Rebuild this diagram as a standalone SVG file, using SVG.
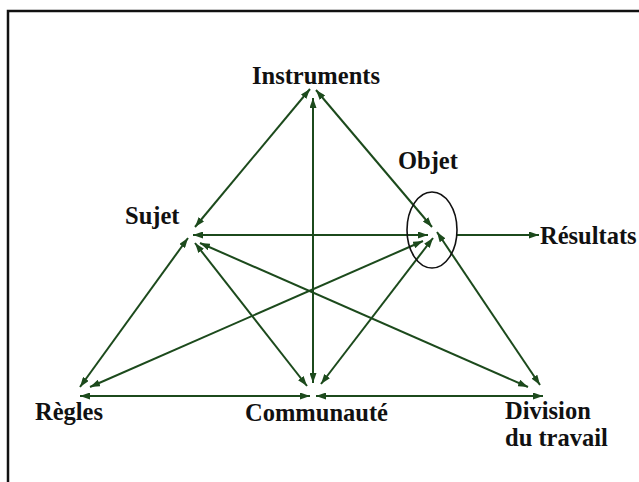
<svg xmlns="http://www.w3.org/2000/svg" width="639" height="482" viewBox="0 0 639 482">
<style>
.lbl{font-family:"Liberation Serif","Times New Roman",serif;font-weight:bold;font-size:24.5px;fill:#111}
.c{stroke:#1c4a1c;stroke-width:2;fill:none}
.d{marker-start:url(#ah);marker-end:url(#ah)}
.s{marker-end:url(#ah)}
</style>
<defs>
<marker id="ah" markerUnits="userSpaceOnUse" markerWidth="10" markerHeight="7" refX="10" refY="3.5" orient="auto-start-reverse">
<path d="M0,0 L10,3.5 L0,7 z" fill="#1c4a1c"/>
</marker>
</defs>
<rect x="0" y="0" width="639" height="482" fill="#fff"/>
<rect x="8" y="11" width="640" height="480" fill="none" stroke="#111" stroke-width="2.5"/>
<g id="connectors">
<line class="c d" x1="310" y1="89" x2="195" y2="227"/>
<line class="c d" x1="316" y1="90" x2="432" y2="227"/>
<line class="c d" x1="313" y1="98" x2="313" y2="383"/>
<line class="c d" x1="193" y1="235" x2="428" y2="235"/>
<line class="c d" x1="188" y1="238" x2="80" y2="387"/>
<line class="c d" x1="195" y1="243" x2="307" y2="386"/>
<line class="c d" x1="200" y1="243" x2="528" y2="387"/>
<line class="c d" x1="423" y1="241" x2="90" y2="387"/>
<line class="c d" x1="433" y1="238" x2="321" y2="384"/>
<line class="c d" x1="437" y1="232" x2="540" y2="385"/>
<line class="c d" x1="80" y1="396" x2="310" y2="396"/>
<line class="c d" x1="316" y1="396" x2="543" y2="396"/>
<line class="c s" x1="457" y1="235" x2="539" y2="235"/>
</g>
<g id="instruments"><text class="lbl" x="252" y="84">Instruments</text></g>
<g id="sujet"><text class="lbl" x="125" y="224">Sujet</text></g>
<g id="objet">
<ellipse cx="432" cy="230" rx="25" ry="38" fill="none" stroke="#111" stroke-width="1.6"/>
<text class="lbl" x="398" y="169">Objet</text>
</g>
<g id="resultats"><text class="lbl" x="540" y="244">Résultats</text></g>
<g id="regles"><text class="lbl" x="35" y="420">Règles</text></g>
<g id="communaute"><text class="lbl" x="245" y="421">Communauté</text></g>
<g id="division"><text class="lbl" x="505" y="419">Division</text><text class="lbl" x="505" y="446">du travail</text></g>
</svg>
